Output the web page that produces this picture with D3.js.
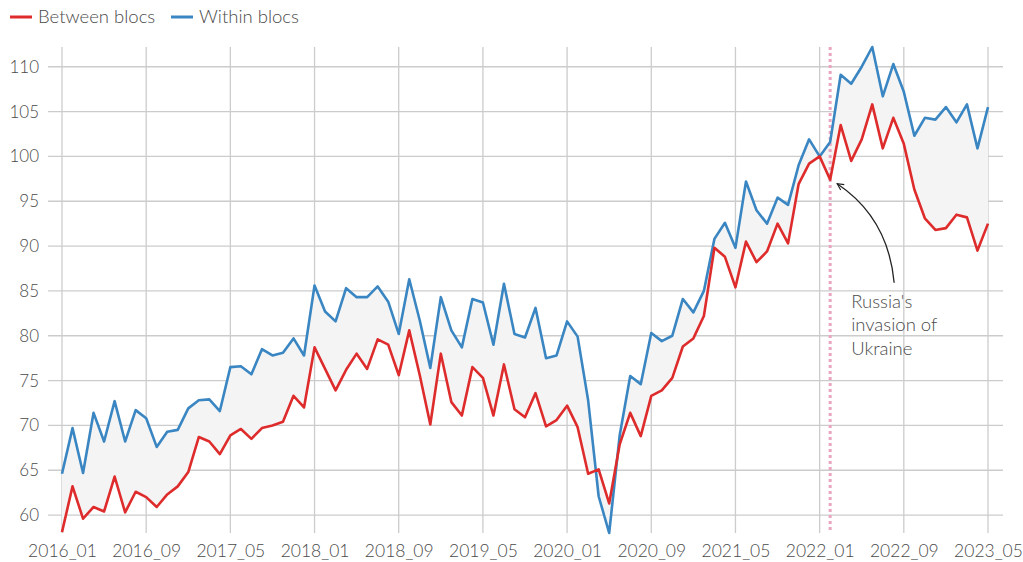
<!DOCTYPE html>
<html>
<head>
<meta charset="utf-8">
<script src="https://cdn.jsdelivr.net/npm/d3@7"></script>
<style>
  body { margin: 0; background: #fff; }
  svg text { font-family: Lato, "Source Sans Pro", sans-serif; font-weight: 300; fill: #4a4a4a; }
</style>
</head>
<body>
<div class="chart"></div>
<script>
// monthly index, 2016_01 .. 2023_05
const startYear = 2016, startMonth = 1, nMonths = 89;

const between = [
  58.1, 63.2, 59.6, 60.9, 60.4, 64.3, 60.3, 62.6, 62.0, 60.9, 62.3, 63.2,
  64.8, 68.7, 68.2, 66.8, 68.9, 69.6, 68.5, 69.7, 70.0, 70.4, 73.3, 72.0,
  78.7, 76.3, 73.9, 76.2, 78.0, 76.3, 79.6, 79.0, 75.6, 80.6, 75.6, 70.1,
  78.0, 72.6, 71.1, 76.5, 75.3, 71.1, 76.8, 71.8, 70.9, 73.6, 69.9, 70.6,
  72.2, 69.8, 64.6, 65.1, 61.3, 67.9, 71.4, 68.8, 73.3, 73.9, 75.3, 78.8,
  79.7, 82.2, 89.8, 88.8, 85.4, 90.5, 88.2, 89.4, 92.5, 90.3, 96.9, 99.2,
  100.0, 97.4, 103.5, 99.5, 101.9, 105.8, 100.9, 104.3, 101.4, 96.3, 93.1, 91.8,
  92.0, 93.5, 93.2, 89.5, 92.5
];

const within = [
  64.6, 69.7, 64.7, 71.4, 68.2, 72.7, 68.2, 71.7, 70.8, 67.6, 69.3, 69.5,
  71.9, 72.8, 72.9, 71.6, 76.5, 76.6, 75.7, 78.5, 77.8, 78.1, 79.7, 77.8,
  85.6, 82.7, 81.6, 85.3, 84.3, 84.3, 85.5, 83.8, 80.2, 86.3, 81.7, 76.4,
  84.3, 80.6, 78.7, 84.1, 83.7, 79.0, 85.8, 80.2, 79.8, 83.1, 77.5, 77.8,
  81.6, 79.9, 72.8, 62.1, 58.0, 68.9, 75.5, 74.6, 80.3, 79.4, 80.0, 84.1,
  82.6, 85.0, 90.8, 92.6, 89.8, 97.2, 94.0, 92.5, 95.4, 94.6, 99.0, 101.9,
  100.0, 101.6, 109.1, 108.1, 110.0, 112.2, 106.7, 110.3, 107.2, 102.3, 104.3, 104.1,
  105.5, 103.8, 105.8, 100.9, 105.5
];

const yTicks = [60, 65, 70, 75, 80, 85, 90, 95, 100, 105, 110];
const xTickEvery = 8;
const invasionMonth = "2022_02";
const annotation = ["Russia's", "invasion of", "Ukraine"];

const months = d3.range(nMonths).map(i => {
  const m = startMonth - 1 + i;
  return (startYear + Math.floor(m / 12)) + "_" + String(m % 12 + 1).padStart(2, "0");
});
const data = months.map((m, i) => ({ month: m, between: between[i], within: within[i] }));

const width = 1023, height = 562;
const svg = d3.select(".chart").append("svg")
  .attr("width", width).attr("height", height);

const x = d3.scalePoint().domain(months).range([62, 988]);
const y = d3.scaleLinear()
  .domain(d3.extent(between.concat(within)))
  .range([533, 47]);

// grid
svg.append("g").selectAll("line")
  .data(yTicks).enter().append("line")
  .attr("x1", 48).attr("x2", 1003)
  .attr("y1", d => y(d)).attr("y2", d => y(d))
  .attr("stroke", "#cccccc").attr("stroke-width", 1.3);

const xTicks = months.filter((m, i) => i % xTickEvery === 0);
svg.append("g").selectAll("line")
  .data(xTicks).enter().append("line")
  .attr("x1", d => x(d)).attr("x2", d => x(d))
  .attr("y1", 47).attr("y2", 533)
  .attr("stroke", "#cccccc").attr("stroke-width", 1.3);

// axes labels
const yAxis = svg.append("g")
  .attr("transform", "translate(48,0)")
  .call(d3.axisLeft(y).tickValues(yTicks).tickSize(0).tickPadding(9));
yAxis.select(".domain").remove();
yAxis.selectAll("text").style("font-size", "17px").attr("fill", "#4a4a4a");

const xAxis = svg.append("g")
  .attr("transform", "translate(0,539)")
  .call(d3.axisBottom(x).tickValues(xTicks).tickSize(0).tickPadding(6));
xAxis.select(".domain").remove();
xAxis.selectAll("text").style("font-size", "17.5px").attr("fill", "#4a4a4a");

// band between
svg.append("path")
  .datum(data)
  .attr("fill", "#f4f4f4")
  .attr("d", d3.area()
    .x(d => x(d.month))
    .y0(d => y(d.between))
    .y1(d => y(d.within)));

// invasion marker
svg.append("line")
  .attr("x1", x(invasionMonth)).attr("x2", x(invasionMonth))
  .attr("y1", 47).attr("y2", 533)
  .attr("stroke", "#e8a6c0").attr("stroke-width", 3)
  .attr("stroke-dasharray", "3,3");

const line = key => d3.line().x(d => x(d.month)).y(d => y(d[key]));

svg.append("path").datum(data)
  .attr("fill", "none").attr("stroke", "#3a86c2").attr("stroke-width", 2.6)
  .attr("stroke-linejoin", "round")
  .attr("d", line("within"));

svg.append("path").datum(data)
  .attr("fill", "none").attr("stroke", "#de2b2b").attr("stroke-width", 2.6)
  .attr("stroke-linejoin", "round")
  .attr("d", line("between"));

// annotation arrow
const ax = x(invasionMonth), ay = y(between[months.indexOf(invasionMonth)]);
svg.append("defs").append("marker")
  .attr("id", "arrow").attr("viewBox", "0 0 10 10")
  .attr("refX", 9).attr("refY", 5)
  .attr("markerWidth", 8).attr("markerHeight", 8)
  .attr("markerUnits", "userSpaceOnUse")
  .attr("orient", "auto")
  .append("path").attr("d", "M1,1 L9,5 L1,9")
  .attr("fill", "none").attr("stroke", "#222").attr("stroke-width", 1.4);

svg.append("path")
  .attr("d", `M${ax + 64},${ay + 103} Q${ax + 58},${ay + 38} ${ax + 7},${ay + 4}`)
  .attr("fill", "none").attr("stroke", "#222").attr("stroke-width", 1.3)
  .attr("marker-end", "url(#arrow)");

svg.append("text")
  .attr("x", ax + 21).attr("y", ay + 128)
  .style("font-size", "18.5px")
  .selectAll("tspan").data(annotation).enter().append("tspan")
  .attr("x", ax + 21).attr("dy", (d, i) => i === 0 ? 0 : 23.5)
  .text(d => d);

// legend
const legend = [
  { label: "Between blocs", color: "#de2b2b", x: 10 },
  { label: "Within blocs", color: "#3a86c2", x: 171 }
];
const lg = svg.append("g").selectAll("g").data(legend).enter().append("g")
  .attr("transform", d => `translate(${d.x},17)`);
lg.append("line").attr("x1", 0).attr("x2", 22)
  .attr("stroke", d => d.color).attr("stroke-width", 3);
lg.append("text").attr("x", 28).attr("dy", "0.35em")
  .style("font-size", "18.5px").text(d => d.label);
</script>
</body>
</html>
